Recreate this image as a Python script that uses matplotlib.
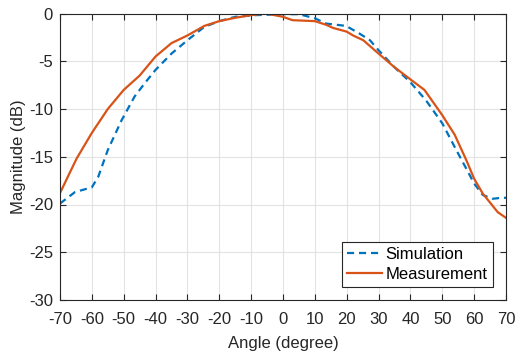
import numpy as np
import matplotlib
matplotlib.use("Agg")
import matplotlib.pyplot as plt

# Simulation (dashed blue)
sim_angle = [-70, -65.3, -60, -58, -55, -50.7, -46.6, -43.4, -40, -35, -30, -24.7,
             -20, -15, -8.5, 0, 5, 10, 13.5, 19.8, 24, 27.3, 30, 34.9, 40, 44.9,
             50, 54.4, 58.1, 60, 62.7, 65.8, 68.5, 70]
sim_db = [-19.9, -18.7, -18.2, -17.1, -14.3, -11.2, -8.7, -7.3, -5.9, -4.2, -2.8, -1.4,
          -0.8, -0.35, -0.17, -0.07, -0.07, -0.5, -1.05, -1.3, -2.1, -2.8, -3.85, -5.6, -7.2, -9.1,
          -11.5, -14.3, -16.6, -17.8, -19.0, -19.4, -19.3, -19.3]

# Measurement (solid orange)
meas_angle = [-70, -64.8, -60, -55, -50, -45, -40, -35, -30, -24.7, -20, -15, -10,
              -5.3, 0, 3, 10, 13.7, 15.6, 20, 22, 25.2, 30, 34.9, 40, 44.4, 50,
              53.9, 57.6, 60, 62.7, 67.4, 70]
meas_db = [-18.8, -15.2, -12.5, -10.0, -8.0, -6.5, -4.5, -3.1, -2.3, -1.3, -0.8, -0.45, -0.17,
           0.0, -0.35, -0.7, -0.8, -1.2, -1.5, -1.9, -2.3, -2.8, -4.2, -5.6, -6.9, -8.0, -10.65,
           -12.7, -15.4, -17.3, -18.85, -20.8, -21.4]

plt.rcParams['font.family'] = ['Liberation Sans', 'DejaVu Sans']
plt.rcParams['font.size'] = 12
plt.rcParams['axes.unicode_minus'] = False

fig = plt.figure(figsize=(5.16, 3.54), dpi=100)
ax = fig.add_axes([60 / 516, 54 / 354, 446 / 516, 286.5 / 354])

ax.plot(sim_angle, sim_db, color='#0072BD', lw=1.6, ls=(0, (3.2, 2.2)), label='Simulation')
ax.plot(meas_angle, meas_db, color='#D95319', lw=1.6, label='Measurement')

ax.set_xlim(-70, 70)
ax.set_ylim(-30, 0)
ax.set_xticks(np.arange(-70, 71, 10))
ax.set_yticks(np.arange(-30, 1, 5))
ax.grid(True, color='#e3e3e3', lw=0.8)
ax.set_axisbelow(True)
ax.tick_params(direction='in', top=True, right=True, length=4, width=0.8,
               color='#262626', labelcolor='#262626', labelsize=12)
ax.tick_params(axis='x', pad=9)
ax.tick_params(axis='y', pad=5)
for s in ax.spines.values():
    s.set_color('#262626')
    s.set_linewidth(0.8)

ax.set_xlabel('Angle (degree)', fontsize=12, color='#262626', labelpad=6)
ax.set_ylabel('Magnitude (dB)', fontsize=12, color='#262626', labelpad=2)

leg = ax.legend(loc='lower right', fontsize=12, frameon=True, fancybox=False,
                edgecolor='#262626', framealpha=1, handlelength=2.1,
                handletextpad=0.2, borderpad=0.3, labelspacing=0.3,
                borderaxespad=0.8)
leg.get_frame().set_linewidth(0.8)

fig.savefig('out.png', dpi=100)
